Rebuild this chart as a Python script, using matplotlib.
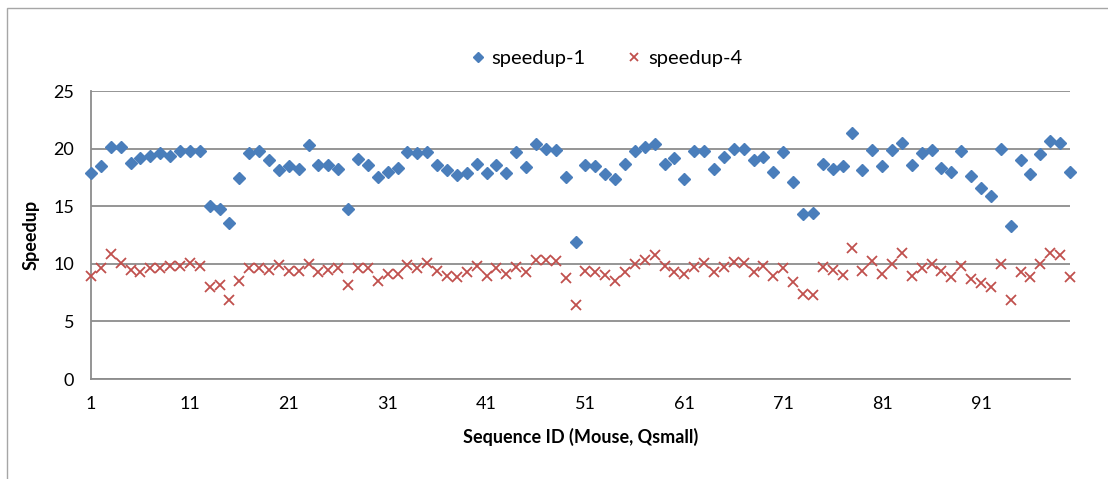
import matplotlib.pyplot as plt
from matplotlib.patches import Rectangle
import numpy as np

# Sequence IDs 1..100
seq_ids = np.arange(1, 101)

speedup_1 = [
    17.9, 18.5, 20.1, 20.1, 18.75, 19.2, 19.4, 19.6, 19.4, 19.8,
    19.8, 19.8, 15.05, 14.75, 13.5, 17.45, 19.6, 19.8, 19.0, 18.1,
    18.45, 18.25, 20.3, 18.6, 18.55, 18.2, 14.75, 19.1, 18.55, 17.5,
    17.95, 18.3, 19.7, 19.65, 19.7, 18.6, 18.15, 17.7, 17.9, 18.7,
    17.85, 18.6, 17.9, 19.7, 18.4, 20.4, 19.95, 19.85, 17.5, 11.9,
    18.6, 18.45, 17.8, 17.4, 18.65, 19.8, 20.1, 20.4, 18.7, 19.2,
    17.4, 19.75, 19.8, 18.2, 19.3, 19.95, 20.0, 19.05, 19.25, 18.0,
    19.7, 17.1, 14.3, 14.45, 18.65, 18.2, 18.5, 21.35, 18.15, 19.9,
    18.5, 19.9, 20.45, 18.55, 19.6, 19.9, 18.35, 17.95, 19.8, 17.6,
    16.55, 15.9, 20.0, 13.25, 19.05, 17.8, 19.5, 20.7, 20.45, 17.95,
]

speedup_4 = [
    8.9, 9.6, 10.85, 10.05, 9.45, 9.3, 9.65, 9.65, 9.85, 9.8,
    10.1, 9.85, 8.0, 8.2, 6.9, 8.5, 9.6, 9.6, 9.45, 9.9,
    9.4, 9.35, 10.0, 9.3, 9.45, 9.6, 8.2, 9.6, 9.6, 8.55,
    9.15, 9.1, 9.9, 9.65, 10.05, 9.4, 8.9, 8.85, 9.25, 9.85,
    8.9, 9.6, 9.1, 9.7, 9.3, 10.35, 10.35, 10.2, 8.8, 6.45,
    9.4, 9.25, 9.05, 8.55, 9.25, 10.0, 10.3, 10.75, 9.85, 9.3,
    9.1, 9.75, 10.05, 9.3, 9.75, 10.15, 10.05, 9.25, 9.8, 8.9,
    9.6, 8.45, 7.35, 7.25, 9.7, 9.5, 9.05, 11.35, 9.35, 10.25,
    9.15, 10.0, 10.95, 8.95, 9.65, 9.95, 9.35, 8.85, 9.85, 8.65,
    8.35, 8.0, 10.0, 6.85, 9.3, 8.85, 10.0, 10.9, 10.8, 8.85,
]

x_ticks = list(range(1, 101, 10))
y_ticks = [0, 5, 10, 15, 20, 25]

blue = '#4A7EBB'
red = '#C0504D'
grid_gray = '#8C8C8C'
font = ['Lato', 'DejaVu Sans']

fig = plt.figure(figsize=(11.08, 4.79), dpi=100)

# outer chart border (only left/top visible in the reference)
fig.patches.append(Rectangle((7 / 1108, -0.1), 1.2, 1.1 - 8 / 479,
                             transform=fig.transFigure, fill=False,
                             edgecolor='#A6A6A6', linewidth=1.0))

ax = fig.add_axes([91 / 1108, 1 - 379 / 479, (1070 - 91) / 1108, (379 - 91) / 479])

ax.plot(seq_ids, speedup_1, linestyle='none', marker='D', markersize=6.2,
        color=blue, markeredgecolor=blue, label='speedup-1', clip_on=False, zorder=3)
ax.plot(seq_ids, speedup_4, linestyle='none', marker='x', markersize=7,
        markeredgewidth=1.3, color=red, label='speedup-4', clip_on=False, zorder=3)

ax.set_xlim(1, 100)
ax.set_ylim(0, 25)
ax.set_xticks(x_ticks)
ax.set_yticks(y_ticks)
ax.tick_params(length=0, labelsize=13, pad=12)
for lab in ax.get_xticklabels() + ax.get_yticklabels():
    lab.set_family(font)
ax.yaxis.grid(True, color=grid_gray, linewidth=1.3)
ax.set_axisbelow(True)
for side in ['top', 'right']:
    ax.spines[side].set_visible(False)
for side in ['left', 'bottom']:
    ax.spines[side].set_color(grid_gray)
    ax.spines[side].set_linewidth(1.3)

ax.set_xlabel('Sequence ID (Mouse, Qsmall)', fontsize=13, fontweight='bold',
              family=font, labelpad=12)
ax.set_ylabel('Speedup', fontsize=13, fontweight='bold', family=font, labelpad=10)

leg = ax.legend(loc='center', bbox_to_anchor=(604 / 1108, 1 - 58 / 479),
                bbox_transform=fig.transFigure, ncol=2, frameon=False,
                prop={'family': font, 'size': 14.5}, handletextpad=0.1,
                columnspacing=1.8, markerscale=0.85, handlelength=1.2)

fig.savefig('out.png', dpi=100)
